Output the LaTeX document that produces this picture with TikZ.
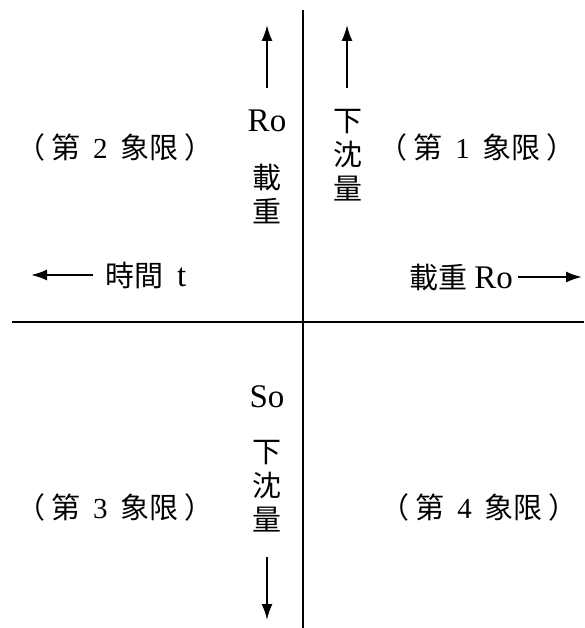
\documentclass[tikz,border=0pt]{standalone}
\usepackage{fontspec}
\setmainfont{Liberation Serif}
\newfontfamily\zhfont{Noto Sans CJK TC}
\usetikzlibrary{arrows.meta}
\tikzset{
  axis/.style={black,line width=2pt},
  arr/.style={black,line width=2pt,-{Latex[length=16pt,width=11pt]}},
  quad/.style={font=\zhfont\fontsize{29}{33}\selectfont,inner sep=0pt},
  vtext/.style={font=\zhfont\fontsize{29}{34}\selectfont,align=center,inner sep=0pt},
  lat/.style={font=\fontsize{33}{36}\selectfont,inner sep=0pt}
}
\newcommand{\quadrant}[3]{%
 \node[quad] ({#1}) at ({#2}) {（\hspace{6pt}第\hspace{13pt}{\rmfamily #3}\hspace{13pt}象限\hspace{6pt}）};%
}
\begin{document}
\begin{tikzpicture}[x=1pt,y=-1pt]
  \useasboundingbox (0,0) rectangle (584,628);
  % axes
  \coordinate (top) at (303,10);
  \coordinate (bottom) at (303,628);
  \coordinate (left) at (12,322);
  \coordinate (right) at (584,322);
  \draw[axis] (top) -- (bottom);
  \draw[axis] (left) -- (right);
  % quadrants
  \quadrant{q1}{477,147}{1}
  \quadrant{q2}{115,147}{2}
  \quadrant{q3}{115,507}{3}
  \quadrant{q4}{479,507}{4}
  % second quadrant axis labels
  \node[lat] (ro) at (267,121) {Ro};
  \node[vtext] (load) at (267,194) {載\\重};
  \node[quad,anchor=west] (time) at (105,275) {時間\hspace{14pt}{\rmfamily\fontsize{33}{36}\selectfont t}};
  \coordinate (ua1) at (267,88);
  \coordinate (ua2) at (267,25);
  \draw[arr] (ua1) -- (ua2);
  \coordinate (la1) at (93,275);
  \coordinate (la2) at (31,275);
  \draw[arr] (la1) -- (la2);
  % first quadrant axis labels
  \node[vtext] (sink1) at (348,155) {下\\沈\\量};
  \node[quad,anchor=east] (load2) at (513,277) {載重 {\rmfamily\fontsize{33}{36}\selectfont Ro}};
  \coordinate (ub1) at (347,88);
  \coordinate (ub2) at (347,25);
  \draw[arr] (ub1) -- (ub2);
  \coordinate (ra1) at (518,277);
  \coordinate (ra2) at (582,277);
  \draw[arr] (ra1) -- (ra2);
  % third quadrant axis labels
  \node[lat] (so) at (267,397) {So};
  \node[vtext] (sink2) at (267,486) {下\\沈\\量};
  \coordinate (da1) at (267,557);
  \coordinate (da2) at (267,620);
  \draw[arr] (da1) -- (da2);
\end{tikzpicture}
\end{document}
